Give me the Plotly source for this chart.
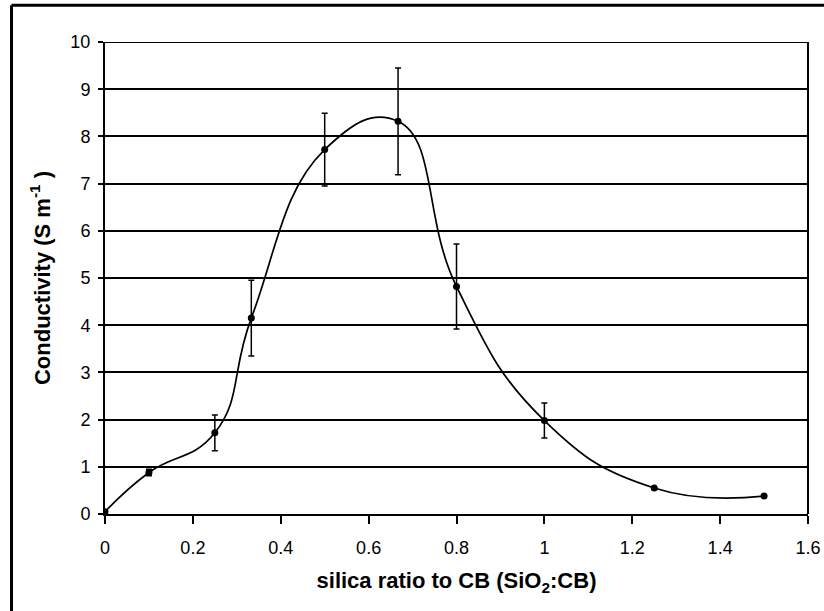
import plotly.graph_objects as go

ratio = [0, 0.1, 0.25, 0.333, 0.5, 0.667, 0.8, 1.0, 1.25, 1.5]
conductivity = [0.05, 0.88, 1.72, 4.15, 7.72, 8.32, 4.82, 1.98, 0.55, 0.38]
error = [0.0, 0.07, 0.38, 0.8, 0.77, 1.13, 0.9, 0.37, 0.0, 0.0]
x_ticks = [0, 0.2, 0.4, 0.6, 0.8, 1, 1.2, 1.4, 1.6]
y_ticks = list(range(0, 11))

fig = go.Figure()
fig.add_trace(go.Scatter(
    x=ratio, y=conductivity, mode="lines",
    line=dict(color="black", width=1.7, shape="spline", smoothing=1.3),
    hoverinfo="skip", showlegend=False,
))
fig.add_trace(go.Scatter(
    x=ratio, y=conductivity, mode="markers",
    marker=dict(color="black", size=7),
    error_y=dict(type="data", array=error, visible=True, color="black", thickness=1.5, width=3),
    showlegend=False,
))

font = "Liberation Sans"
fig.update_layout(
    width=824, height=611,
    margin=dict(l=105, r=16, t=42, b=97, autoexpand=False),
    paper_bgcolor="white", plot_bgcolor="white",
    font=dict(family=font, color="black", size=18),
    xaxis=dict(
        range=[0, 1.6], tickvals=x_ticks, ticktext=[str(v) for v in x_ticks],
        showgrid=False, zeroline=False, automargin=False,
        showline=True, linecolor="black", linewidth=2, mirror=False,
        ticks="outside", ticklen=8, tickwidth=1.5, tickcolor="black",
        tickfont=dict(family=font, size=18), ticklabelstandoff=8,
        title=dict(text="<b>silica ratio to CB (SiO<sub>2</sub>:CB)</b>",
                   font=dict(family=font, size=22), standoff=16),
    ),
    yaxis=dict(
        range=[0, 10], tickvals=y_ticks, automargin=False,
        showgrid=True, gridcolor="black", gridwidth=2,
        zeroline=False,
        showline=True, linecolor="black", linewidth=2, mirror=False,
        ticks="outside", ticklen=5, tickwidth=1.5, tickcolor="black",
        tickfont=dict(family=font, size=18), ticklabelstandoff=4,
        title=dict(text="<b>Conductivity (S m<sup>-1</sup> )</b>",
                   font=dict(family=font, size=22), standoff=14),
    ),
    shapes=[
        dict(type="line", xref="paper", yref="paper", x0=1, x1=1, y0=0, y1=1,
             line=dict(color="black", width=2)),
        dict(type="line", xref="paper", yref="y", x0=0, x1=1, y0=10, y1=10,
             line=dict(color="black", width=2)),
        dict(type="line", xref="paper", yref="paper", x0=-0.133, x1=1.03, y0=1.078, y1=1.078,
             line=dict(color="black", width=3)),
        dict(type="line", xref="paper", yref="paper", x0=-0.133, x1=-0.133, y0=1.078, y1=-0.21,
             line=dict(color="black", width=3)),
    ],
)
fig.write_html("out.html")
